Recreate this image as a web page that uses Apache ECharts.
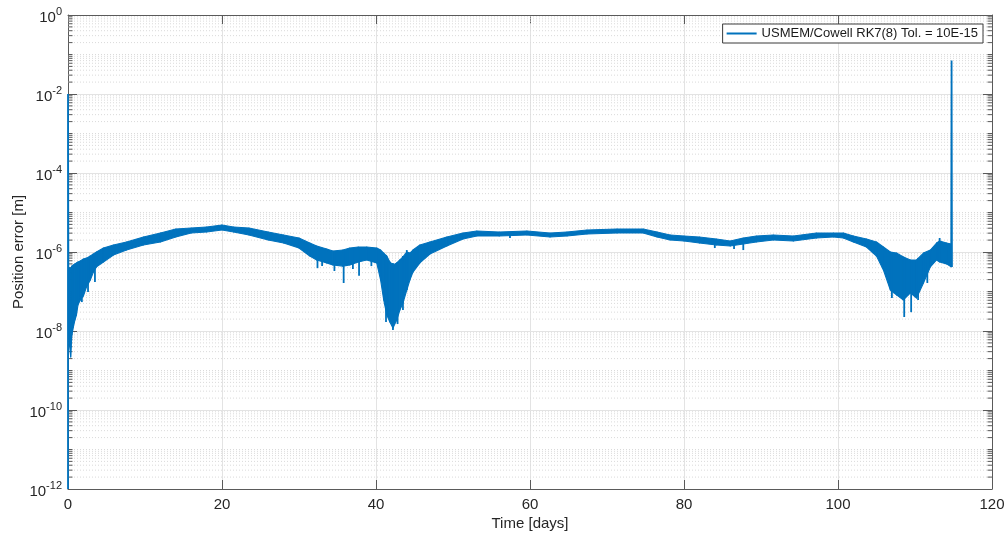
<!DOCTYPE html>
<html><head><meta charset="utf-8">
<script src="https://cdn.jsdelivr.net/npm/echarts@6/dist/echarts.min.js"></script>
<style>html,body{margin:0;padding:0;background:#fff}#c{width:1008px;height:538px}</style>
</head><body><div id="c"></div>
<script>
const seriesName = 'USMEM/Cowell RK7(8) Tol. = 10E-15';
const xTicks = [0, 20, 40, 60, 80, 100, 120];
const yTickExponents = [-12, -10, -8, -6, -4, -2, 0];

// dense noisy band: time [days], upper and lower envelope of position error [m]
const bandTime = [0.05,0.2,0.35,0.5,0.7,0.9,1.1,1.3,1.6,2.0,2.4,2.9,3.3,3.7,4.6,5.9,7.6,9.8,12,14,16,18,20,21.5,23.5,26,28,30,31.4,32.3,33.6,34.4,35.7,36.6,37.7,38.8,40.1,40.6,41.0,41.4,41.8,42.2,42.7,43.1,43.5,44.0,44.4,44.8,45.7,47.0,49.2,51.3,53.1,56,59.6,62.6,64.8,67.4,71.3,74.7,76.5,78.2,80,82,84.2,86,87.7,89.4,91.6,94.2,97.2,99.4,100.7,102,103.7,105,105.9,106.8,107.6,108.5,109.4,110.2,111.1,112,112.8,113.2,114.1,114.7];
const bandUpper = [3.5e-7,3.9e-7,3.9e-7,4.4e-7,4.7e-7,5.0e-7,5.3e-7,5.6e-7,5.9e-7,6.65e-7,7.0e-7,7.9e-7,8.9e-7,1.0e-6,1.26e-6,1.5e-6,1.79e-6,2.4e-6,3.03e-6,3.82e-6,4.05e-6,4.29e-6,4.82e-6,4.29e-6,4.05e-6,3.21e-6,2.69e-6,2.26e-6,1.69e-6,1.42e-6,1.19e-6,1.06e-6,1.12e-6,1.26e-6,1.34e-6,1.34e-6,1.26e-6,1.12e-6,9.4e-7,7.9e-7,5.6e-7,4.7e-7,5.3e-7,6.3e-7,7.5e-7,1.0e-6,9.4e-7,1.12e-6,1.5e-6,1.79e-6,2.4e-6,3.03e-6,3.4e-6,3.21e-6,3.4e-6,3.03e-6,3.21e-6,3.6e-6,3.82e-6,3.82e-6,3.21e-6,2.69e-6,2.54e-6,2.4e-6,2.13e-6,1.9e-6,2.26e-6,2.54e-6,2.69e-6,2.54e-6,3.03e-6,3.03e-6,3.03e-6,2.54e-6,2.13e-6,1.79e-6,1.34e-6,1.0e-6,9.4e-7,7.5e-7,6.3e-7,6.3e-7,9.4e-7,1.12e-6,1.69e-6,1.9e-6,1.69e-6,1.59e-6];
const bandLower = [1.06e-8,4.4e-9,2.2e-9,7.9e-9,1.26e-8,1.9e-8,2.54e-8,4.6e-8,6.1e-8,7.7e-8,1.3e-7,1.95e-7,3.1e-7,4.2e-7,5.6e-7,8.4e-7,1.12e-6,1.5e-6,1.79e-6,2.4e-6,3.03e-6,3.21e-6,3.6e-6,3.21e-6,2.69e-6,2.01e-6,1.69e-6,1.26e-6,7.9e-7,6.3e-7,5.3e-7,4.7e-7,4.4e-7,4.7e-7,5.6e-7,6.3e-7,5.3e-7,1.95e-7,6.1e-8,2.54e-8,1.69e-8,1.19e-8,1.9e-8,3.4e-8,5.1e-8,1.09e-7,1.95e-7,3.1e-7,5.3e-7,8.9e-7,1.42e-6,2.13e-6,2.54e-6,2.54e-6,2.69e-6,2.4e-6,2.54e-6,2.85e-6,3.03e-6,3.03e-6,2.4e-6,2.01e-6,1.9e-6,1.69e-6,1.5e-6,1.42e-6,1.59e-6,1.79e-6,2.01e-6,1.9e-6,2.26e-6,2.4e-6,2.26e-6,1.79e-6,1.34e-6,7.9e-7,3.5e-7,1.09e-7,8.2e-8,6.1e-8,9.2e-8,6.85e-8,1.64e-7,4.2e-7,6.3e-7,5.6e-7,5.0e-7,4.2e-7];

// isolated spikes: time, top value, bottom value
const spikeTime = [1.8,2.6,3.5,32.4,33.0,34.6,35.8,37.0,37.8,39.4,41.3,42.2,42.8,43.5,44.0,57.4,84.0,86.5,87.7,107.0,108.6,109.5,110.4,111.6,113.2];
const spikeTop = [5.6e-7,7.0e-7,8.4e-7,1.34e-6,1.26e-6,1.06e-6,1.12e-6,1.26e-6,1.34e-6,1.34e-6,8.4e-7,5.3e-7,5.6e-7,7.9e-7,1.12e-6,3.21e-6,2.13e-6,1.9e-6,2.26e-6,1.0e-6,7.5e-7,6.3e-7,7.0e-7,1.0e-6,2.26e-6];
const spikeBottom = [5.4e-8,9.7e-8,1.74e-7,3.9e-7,4.4e-7,3.3e-7,1.64e-7,3.7e-7,2.5e-7,4.4e-7,1.69e-8,1.06e-8,1.5e-8,3.4e-8,1.09e-7,2.26e-6,1.26e-6,1.19e-6,1.12e-6,6.85e-8,2.26e-8,3.0e-8,6.1e-8,1.64e-7,5.6e-7];

// start and end of the trace
const startTime = [0, 0, 0.05];
const startValue = [1e-12, 1e-2, 3.5e-7];
const endTime = [114.7, 114.75, 114.8];
const endValue = [4.2e-7, 7e-2, 4.2e-7];

const COLOR = '#0072BD';
const AXIS = '#5a5a5a';
const FONT = '"Liberation Sans", Arial, Helvetica, sans-serif';

// minor grid / tick values of the log axis (odd decades + 2..9 multiples)
const minorVals = [];
for (let e = -12; e < 0; e++) {
  for (let m = 1; m <= 9; m++) {
    if (m === 1 && (e % 2 === 0)) continue;
    minorVals.push(m * Math.pow(10, e));
  }
}

const bandData = bandTime.slice(0, -1).map((t, i) => [t, bandUpper[i], bandLower[i], bandTime[i+1], bandUpper[i+1], bandLower[i+1]]);
const spikeData = spikeTime.map((t, i) => [t, spikeTop[i], spikeBottom[i]]);

const chart = echarts.init(document.getElementById('c'), null, {renderer: 'canvas'});
chart.setOption({
  animation: false,
  backgroundColor: '#fff',
  color: [COLOR],
  textStyle: {fontFamily: FONT},
  grid: {left: 68, right: 16, top: 15, bottom: 49, containLabel: false, outerBoundsMode: 'none'},
  legend: {
    data: [{name: seriesName, icon: 'rect'}],
    right: 25, top: 24, itemWidth: 30, itemHeight: 2, itemGap: 5,
    padding: [3, 5, 3, 4],
    backgroundColor: '#fff', borderColor: '#3a3a3a', borderWidth: 1, borderRadius: 0,
    textStyle: {fontSize: 13, color: '#1a1a1a', fontFamily: FONT},
    selectedMode: false
  },
  xAxis: [{
    type: 'value', min: 0, max: 120, interval: 20, position: 'bottom',
    name: 'Time [days]', nameLocation: 'middle', nameGap: 27, nameMoveOverlap: false,
    nameTextStyle: {fontSize: 15, color: '#262626', fontFamily: FONT},
    axisLine: {show: true, onZero: false, lineStyle: {color: AXIS, width: 1}},
    axisTick: {show: true, inside: true, length: 9, lineStyle: {color: AXIS}},
    axisLabel: {fontSize: 15, color: '#262626', margin: 8, fontFamily: FONT,
      formatter: v => xTicks.includes(v) ? String(v) : ''},
    splitLine: {show: true, lineStyle: {color: '#e3e3e3', width: 1}}
  }, {
    type: 'value', min: 0, max: 120, interval: 20, position: 'top',
    axisLine: {show: true, onZero: false, lineStyle: {color: AXIS, width: 1}},
    axisTick: {show: true, inside: true, length: 9, lineStyle: {color: AXIS}},
    axisLabel: {show: false}, splitLine: {show: false}
  }],
  yAxis: [{
    type: 'log', logBase: 10, min: 1e-12, max: 1, interval: 2, splitNumber: 6, position: 'left',
    name: 'Position error [m]', nameLocation: 'middle', nameGap: 42, nameRotate: 90, nameMoveOverlap: false,
    nameTextStyle: {fontSize: 15, color: '#262626', fontFamily: FONT},
    axisLine: {show: true, onZero: false, lineStyle: {color: AXIS, width: 1}},
    axisTick: {show: true, inside: true, length: 9, lineStyle: {color: AXIS}},
    axisLabel: {
      margin: 6, color: '#262626', fontFamily: FONT,
      formatter: v => {
        const e = Math.round(Math.log10(v));
        return yTickExponents.includes(e) ? '{b|10}{s|' + e + '}' : '';
      },
      rich: {
        b: {fontSize: 15, color: '#262626', fontFamily: FONT, padding: [6, 0, 0, 0]},
        s: {fontSize: 11, color: '#262626', fontFamily: FONT, padding: [0, 0, 6, 0]}
      }
    },
    splitLine: {show: true, lineStyle: {color: '#e3e3e3', width: 1}}
  }, {
    type: 'log', logBase: 10, min: 1e-12, max: 1, interval: 2, splitNumber: 6, position: 'right',
    axisLine: {show: true, onZero: false, lineStyle: {color: AXIS, width: 1}},
    axisTick: {show: true, inside: true, length: 9, lineStyle: {color: AXIS}},
    axisLabel: {show: false}, splitLine: {show: false}
  }],
  series: [
    {
      name: 'minorgrid', type: 'custom', z: 1, silent: true,
      data: minorVals.map(v => [60, v]),
      encode: {x: 0, y: 1},
      renderItem: (params, api) => {
        const p = api.coord([60, api.value(1)]);
        const cs = params.coordSys;
        const y = p[1];
        return {type: 'group', children: [
          {type: 'line', shape: {x1: cs.x, y1: y, x2: cs.x + cs.width, y2: y},
            style: {stroke: '#dadada', lineWidth: 1, lineDash: [1, 2]}},
          {type: 'line', shape: {x1: cs.x, y1: y, x2: cs.x + 4.5, y2: y}, style: {stroke: AXIS, lineWidth: 1}},
          {type: 'line', shape: {x1: cs.x + cs.width, y1: y, x2: cs.x + cs.width - 4.5, y2: y}, style: {stroke: AXIS, lineWidth: 1}}
        ]};
      }
    },
    {
      name: seriesName, type: 'custom', z: 5, silent: true,
      itemStyle: {color: COLOR},
      data: bandData,
      encode: {x: [0, 3], y: [1, 2, 4, 5]},
      renderItem: (params, api) => {
        const a = api.coord([api.value(0), api.value(1)]);
        const b = api.coord([api.value(3), api.value(4)]);
        const c = api.coord([api.value(3), api.value(5)]);
        const d = api.coord([api.value(0), api.value(2)]);
        return {type: 'polygon', shape: {points: [a, b, c, d]},
          style: {fill: COLOR, stroke: COLOR, lineWidth: 1.1, lineJoin: 'round'}};
      }
    },
    {
      name: seriesName, type: 'custom', z: 6, silent: true,
      itemStyle: {color: COLOR},
      data: spikeData,
      encode: {x: 0, y: [1, 2]},
      renderItem: (params, api) => {
        const a = api.coord([api.value(0), api.value(1)]);
        const b = api.coord([api.value(0), api.value(2)]);
        return {type: 'line', shape: {x1: a[0], y1: a[1], x2: b[0], y2: b[1]},
          style: {stroke: COLOR, lineWidth: 1.8}};
      }
    },
    {
      name: seriesName, type: 'line', z: 6, silent: true, showSymbol: false, symbol: 'none',
      lineStyle: {color: COLOR, width: 1.8},
      data: startTime.map((t, i) => [t, startValue[i]])
    },
    {
      name: seriesName, type: 'line', z: 6, silent: true, showSymbol: false, symbol: 'none',
      lineStyle: {color: COLOR, width: 1.8},
      data: endTime.map((t, i) => [t, endValue[i]])
    }
  ]
});
</script>
</body></html>
